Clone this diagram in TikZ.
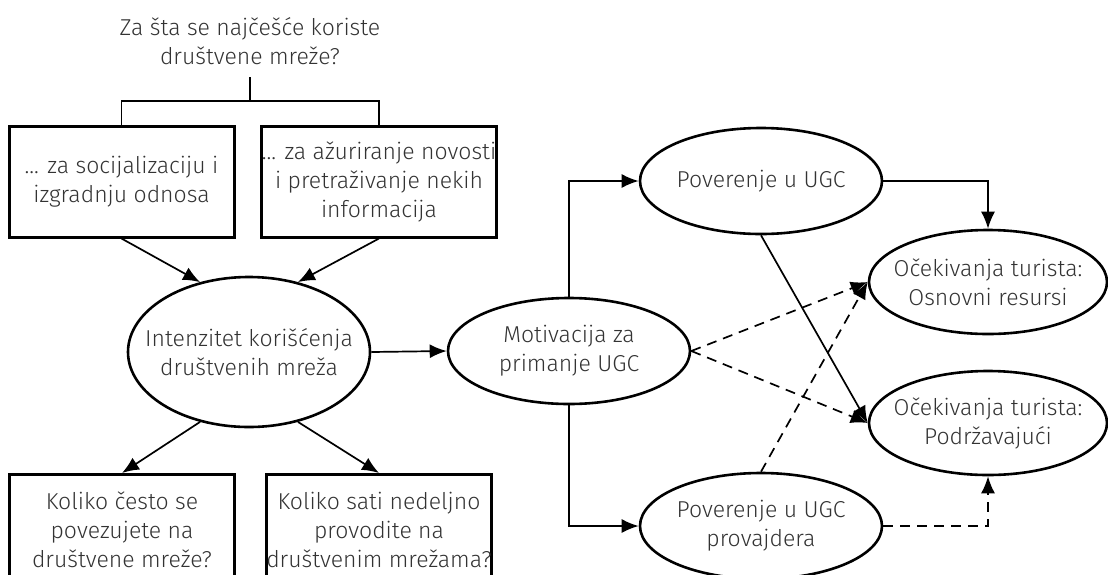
\documentclass[tikz,border=0pt]{standalone}
\usepackage{fontspec}
\setmainfont{Fira Sans}[UprightFont={* Light}]
\usetikzlibrary{positioning,arrows.meta,shapes.geometric}

\begin{document}
\begin{tikzpicture}[x=0.5pt,y=-0.5pt,>={Latex[length=8.5pt,width=7pt]},
    every node/.style={font=\fontsize{11.5}{14.5}\selectfont,text=black!80,align=center},
    qbox/.style={draw,line width=1.5pt,minimum width=112.5pt,minimum height=55.5pt,inner sep=0pt},
    oval/.style={ellipse,draw,line width=1.3pt,minimum width=121pt,minimum height=53pt,
        inner xsep=-10pt,inner ysep=-4pt},
    link/.style={->,line width=0.85pt},
    weak/.style={link,dash pattern=on 5pt off 3.5pt}]
    \clip (0,0) rectangle (1108,574);

    \path
        % question and its two answers
        (250,41)  node (q) {Za šta se najčešće koriste\\društvene mreže?}
        (121.5,181.5) node[qbox] (soc) {... za socijalizaciju i\\izgradnju odnosa}
        (379,181.5)   node[qbox] (news) {... za ažuriranje novosti\\i pretraživanje nekih\\informacija}
        % usage intensity and its measures
        (249,352) node[oval,minimum height=75pt] (use) {Intenzitet korišćenja\\društvenih mreža}
        (122,530) node[qbox] (freq) {Koliko često se\\povezujete na\\društvene mreže?}
        (379,530) node[qbox] (hours) {Koliko sati nedeljno\\provodite na\\društvenim mrežama?}
        % motivation, trust and expectations
        (569,351) node[oval] (motiv) {Motivacija za\\primanje UGC}
        (761,181) node[oval] (trust) {Poverenje u UGC}
        (761,526) node[oval] (prov) {Poverenje u UGC\\provajdera}
        (988,282) node[oval,minimum width=119pt,minimum height=52pt] (basic) {Očekivanja turista:\\Osnovni resursi}
        (988,423) node[oval,minimum width=119pt,minimum height=52pt] (supp) {Očekivanja turista:\\Podržavajući};

    \coordinate (qfoot) at (250,77);
    \coordinate (fork) at (250,101);
    \draw[line width=0.85pt] (qfoot)--(fork);
    \draw[line width=0.85pt] (soc.north) |- (fork) -| (news.north);

    \draw[link] (soc.south)--(use.125);
    \draw[link] (news.south)--(use.55);
    \draw[link] (use.-125)--(freq.north);
    \draw[link] (use.-55)--(hours.north);
    \draw[link] (use.east)--(motiv.west);

    \draw[link] (motiv.north) |- (trust.west);
    \draw[link] (motiv.south) |- (prov.west);
    \draw[link] (trust.east) -| (basic.north);
    \draw[link] (trust.south)--(supp.west);

    \draw[weak] (motiv.east)--(basic.west);
    \draw[weak] (motiv.east)--(supp.west);
    \draw[weak] (prov.north)--(basic.west);
    \draw[weak] (prov.east) -| (supp.south);
\end{tikzpicture}
\end{document}
